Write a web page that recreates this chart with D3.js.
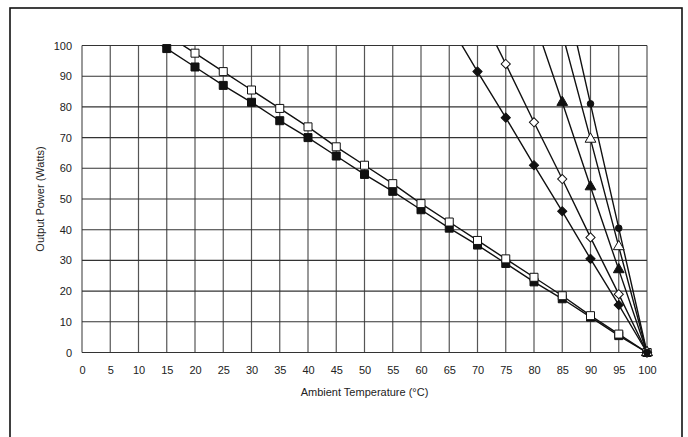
<!DOCTYPE html>
<html>

<head>
    <meta charset="utf-8">
    <title>Output Power vs Ambient Temperature</title>
    <script src="https://d3js.org/d3.v7.min.js"></script>
    <style>
        body { margin: 0; background: #fff; }
        text { font-family: "Liberation Sans", Arial, sans-serif; fill: #222; }
    </style>
</head>

<body>
    <script type="text/javascript">
        // tick values
        let xTicks = d3.range(0, 101, 5);
        let yTicks = d3.range(0, 101, 10);

        // each series: [temperature, watts]; first points above 100 only feed the clipped line
        let filledSquare = [[10, 105], [15, 99], [20, 93], [25, 87], [30, 81.5], [35, 75.5], [40, 70], [45, 64], [50, 58], [55, 52.5], [60, 46.5], [65, 40.5], [70, 35], [75, 29], [80, 23], [85, 17.5], [90, 11.5], [95, 5.5], [100, 0]];
        let openSquare = [[15, 103.5], [20, 97.5], [25, 91.5], [30, 85.5], [35, 79.5], [40, 73.5], [45, 67], [50, 61], [55, 55], [60, 48.5], [65, 42.5], [70, 36.5], [75, 30.5], [80, 24.5], [85, 18.5], [90, 12], [95, 6], [100, 0]];
        let filledDiamond = [[65, 107], [70, 91.5], [75, 76.5], [80, 61], [85, 46], [90, 30.5], [95, 15.5], [100, 0]];
        let openDiamond = [[70, 112.5], [75, 94], [80, 75], [85, 56.5], [90, 37.5], [95, 19], [100, 0]];
        let filledTriangle = [[80, 108.5], [85, 81.5], [90, 54], [95, 27], [100, 0]];
        let openTriangle = [[85, 104], [90, 69.5], [95, 34.5], [100, 0]];
        let filledCircle = [[85, 121.5], [90, 81], [95, 40.5], [100, 0]];

        let series = [
            { data: filledSquare, shape: d3.symbolSquare, size: 64, rot: 0, fill: "#111" },
            { data: openSquare, shape: d3.symbolSquare, size: 64, rot: 0, fill: "#fff" },
            { data: filledDiamond, shape: d3.symbolSquare, size: 42, rot: 45, fill: "#111" },
            { data: openDiamond, shape: d3.symbolSquare, size: 42, rot: 45, fill: "#fff" },
            { data: filledTriangle, shape: d3.symbolTriangle, size: 50, rot: 0, fill: "#111" },
            { data: openTriangle, shape: d3.symbolTriangle, size: 50, rot: 0, fill: "#fff" },
            { data: filledCircle, shape: d3.symbolCircle, size: 34, rot: 0, fill: "#111" }
        ];

        let width = 688, height = 437;
        let plotLeft = 82, plotRight = 647, plotTop = 45.5, plotBottom = 352.5;

        let svg = d3.select("body").append("svg")
            .attr("width", width)
            .attr("height", height);

        // outer frame
        svg.append("rect")
            .attr("x", 10).attr("y", 8)
            .attr("width", 672).attr("height", 440)
            .attr("fill", "none")
            .attr("stroke", "#111")
            .attr("stroke-width", 1.6);

        let x = d3.scaleLinear().domain([0, 100]).range([plotLeft, plotRight]);
        let y = d3.scaleLinear().domain([0, 100]).range([plotBottom, plotTop]);

        // grid
        let grid = svg.append("g");
        grid.selectAll(".vline").data(xTicks).join("line")
            .attr("x1", d => x(d)).attr("x2", d => x(d))
            .attr("y1", plotTop).attr("y2", plotBottom)
            .attr("stroke", "#555").attr("stroke-width", 1.2);
        grid.selectAll(".hline").data(yTicks).join("line")
            .attr("x1", plotLeft).attr("x2", plotRight)
            .attr("y1", d => y(d)).attr("y2", d => y(d))
            .attr("stroke", "#333").attr("stroke-width", 1.1);

        // tick labels via axes (no domain / tick lines)
        let xAxis = svg.append("g")
            .attr("transform", "translate(0," + plotBottom + ")")
            .call(d3.axisBottom(x).tickValues(xTicks).tickSize(0).tickPadding(14));
        let yAxis = svg.append("g")
            .attr("transform", "translate(" + plotLeft + ",0)")
            .call(d3.axisLeft(y).tickValues(yTicks).tickSize(0).tickPadding(10));
        [xAxis, yAxis].forEach(a => {
            a.select(".domain").remove();
            a.selectAll("text")
                .attr("font-size", 11)
                .attr("font-family", "Liberation Sans, Arial, sans-serif")
                .attr("fill", "#222");
        });

        svg.append("text")
            .attr("x", x(50)).attr("y", 396)
            .attr("text-anchor", "middle")
            .attr("font-size", 11)
            .text("Ambient Temperature (°C)");

        svg.append("text")
            .attr("transform", "translate(44," + ((plotTop + plotBottom) / 2) + ") rotate(-90)")
            .attr("text-anchor", "middle")
            .attr("font-size", 11)
            .text("Output Power (Watts)");

        // clip lines to plot area
        svg.append("clipPath").attr("id", "plot")
            .append("rect")
            .attr("x", plotLeft).attr("y", plotTop)
            .attr("width", plotRight - plotLeft).attr("height", plotBottom - plotTop);

        let line = d3.line().x(d => x(d[0])).y(d => y(d[1]));

        let lines = svg.append("g").attr("clip-path", "url(#plot)");
        series.forEach(s => {
            lines.append("path")
                .attr("d", line(s.data))
                .attr("fill", "none")
                .attr("stroke", "#111")
                .attr("stroke-width", 1.4);
        });

        let marks = svg.append("g");
        series.forEach(s => {
            marks.selectAll(null)
                .data(s.data.filter(d => d[1] <= 100))
                .join("path")
                .attr("d", d3.symbol().type(s.shape).size(s.size))
                .attr("transform", d => "translate(" + x(d[0]) + "," + y(d[1]) + ") rotate(" + s.rot + ")")
                .attr("fill", s.fill)
                .attr("stroke", "#111")
                .attr("stroke-width", 1);
        });
    </script>
</body>

</html>
